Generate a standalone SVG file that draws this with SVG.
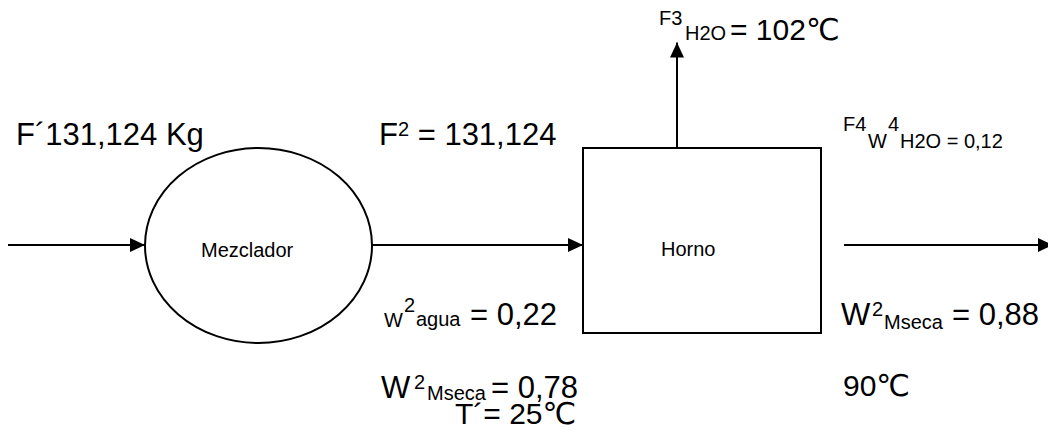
<svg xmlns="http://www.w3.org/2000/svg" width="1048" height="436" viewBox="0 0 1048 436">
<style>
text{font-family:"Liberation Sans",Arial,"DejaVu Sans",sans-serif;fill:#000}
.b{font-size:31px}
.t{font-size:30px}
.s{font-size:20px}
.shape{fill:#fff;stroke:#000;stroke-width:2}
.conn{stroke:#000;stroke-width:2;fill:none}
</style>
<defs>
<marker id="ah" viewBox="0 0 15 14" refX="15" refY="7" markerWidth="15" markerHeight="14" markerUnits="userSpaceOnUse" orient="auto">
<path d="M0,0 L15,7 L0,14 Z" fill="#000"/>
</marker>
</defs>
<rect width="1048" height="436" fill="#fff"/>
<g id="connectors">
<line class="conn" x1="8" y1="245" x2="145" y2="245" marker-end="url(#ah)"/>
<line class="conn" x1="372" y1="245" x2="583" y2="245" marker-end="url(#ah)"/>
<line class="conn" x1="677" y1="148" x2="677" y2="42.5" marker-end="url(#ah)"/>
<line class="conn" x1="844" y1="245" x2="1053" y2="245" marker-end="url(#ah)"/>
</g>
<g id="mezclador">
<ellipse class="shape" cx="258.5" cy="245.5" rx="113.5" ry="97.5"/>
<text class="s" x="201" y="257">Mezclador</text>
</g>
<g id="horno">
<rect class="shape" x="583" y="148" width="238" height="185"/>
<text class="s" x="661" y="256">Horno</text>
</g>
<g id="labels">
<text class="b" x="16" y="145">F´131,124 Kg</text>
<text class="b" x="379" y="145">F<tspan class="s" dy="-9">2</tspan><tspan dy="9"> = 131,124</tspan></text>
<text class="s" x="659" y="25">F3</text>
<text class="s" x="685" y="40">H2O</text>
<text class="t" x="730" y="40">= 102℃</text>
<text class="s" x="843" y="131">F4</text>
<text class="s" x="888" y="131">4</text>
<text class="s" x="868" y="148">W</text>
<text class="s" x="900" y="148">H2O = 0,12</text>
<text class="s" x="384" y="327">W</text>
<text class="s" x="404" y="312">2</text>
<text class="s" x="416" y="326">agua</text>
<text class="b" x="470" y="325">= 0,22</text>
<text class="b" x="381" y="398">W</text>
<text class="s" x="414" y="389">2</text>
<text class="s" x="427" y="400">Mseca</text>
<text class="b" x="491" y="398">= 0,78</text>
<text class="t" x="455" y="424">T´= 25℃</text>
<text class="b" x="841" y="325">W</text>
<text class="s" x="872" y="316">2</text>
<text class="s" x="884" y="329">Mseca</text>
<text class="b" x="952" y="325">= 0,88</text>
<text class="t" x="843" y="396">90℃</text>
</g>
</svg>
